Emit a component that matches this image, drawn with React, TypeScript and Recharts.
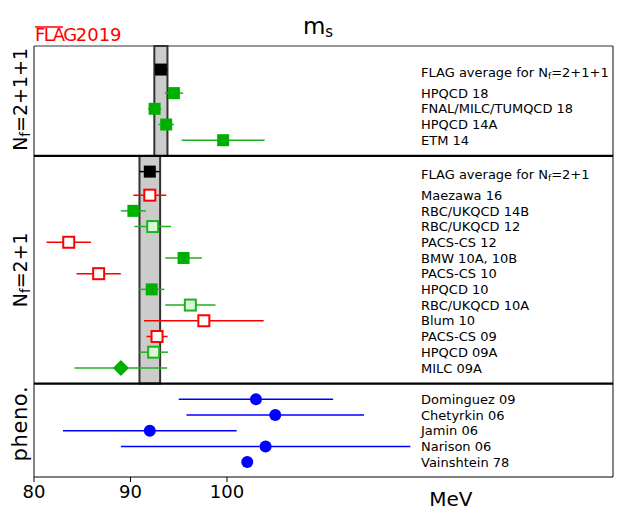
import {
  ComposedChart,
  ErrorBar,
  Label,
  ReferenceArea,
  ReferenceLine,
  Scatter,
  XAxis,
  YAxis,
} from "recharts";

// FLAG averages (top: Nf=2+1+1, middle: Nf=2+1)
const averageLabels = ["FLAG average for Nf=2+1+1", "FLAG average for Nf=2+1"];
const averageValues = [93.15, 92.0];
const averageErrors = [0.68, 1.07];

const nf4Names = ["HPQCD 18", "FNAL/MILC/TUMQCD 18", "HPQCD 14A", "ETM 14"];
const nf4Values = [94.5, 92.5, 93.7, 99.6];
const nf4Errors = [0.96, 0.69, 0.8, 4.3];
const nf4Markers = ["filled", "filled", "filled", "filled"];

const nf3Names = [
  "Maezawa 16",
  "RBC/UKQCD 14B",
  "RBC/UKQCD 12",
  "PACS-CS 12",
  "BMW 10A, 10B",
  "PACS-CS 10",
  "HPQCD 10",
  "RBC/UKQCD 10A",
  "Blum 10",
  "PACS-CS 09",
  "HPQCD 09A",
  "MILC 09A",
];
const nf3Values = [92.0, 90.3, 92.3, 83.6, 95.5, 86.7, 92.2, 96.2, 97.6, 92.75, 92.4, 89.0];
const nf3Errors = [1.7, 1.3, 1.9, 2.3, 1.9, 2.3, 1.3, 2.6, 6.2, 1.1, 1.5, 4.8];
const nf3Markers = [
  "open", "filled", "light", "open", "filled", "open",
  "filled", "light", "open", "open", "light", "diamond",
];

const phenoNames = ["Dominguez 09", "Chetyrkin 06", "Jamin 06", "Narison 06", "Vainshtein 78"];
const phenoValues = [103, 105, 92, 104, 102.1];
const phenoErrors = [8, 9.2, 9, 15, 0];

const sectionNames = ["Nf=2+1+1", "Nf=2+1", "pheno."];
const xTicks = [80, 90, 100];

// row layout (y axis runs top to bottom in row units)
const TOP_AVG = 1.5;
const TOP_FIRST = 3;
const SEP1 = 7;
const MID_AVG = 8;
const MID_FIRST = 9.5;
const SEP2 = 21.5;
const PHENO_FIRST = 22.5;
const Y_MAX = 27.45;
const SECTION_ROWS = [3.4, 14.25, 24.05];

const GREEN = "#00b000";
const GREEN_LINE = "#20b020";
const RED = "#ff0000";
const BLUE = "#0000ff";
const FONT = "DejaVu Sans, sans-serif";

type Pt = { x: number; y: number; err: number; marker: string };

const points: Pt[] = [
  ...nf4Values.map((v, i) => ({ x: v, y: TOP_FIRST + i, err: nf4Errors[i], marker: nf4Markers[i] })),
  ...nf3Values.map((v, i) => ({ x: v, y: MID_FIRST + i, err: nf3Errors[i], marker: nf3Markers[i] })),
];
const avgPoints = [
  { x: averageValues[0], y: TOP_AVG, err: averageErrors[0] },
  { x: averageValues[1], y: MID_AVG, err: averageErrors[1] },
];
const phenoPoints = phenoValues.map((v, i) => ({ x: v, y: PHENO_FIRST + i, err: phenoErrors[i] }));

const rowLabels: { y: number; text: string; avg: boolean }[] = [
  { y: TOP_AVG, text: averageLabels[0], avg: true },
  ...nf4Names.map((n, i) => ({ y: TOP_FIRST + i, text: n, avg: false })),
  { y: MID_AVG, text: averageLabels[1], avg: true },
  ...nf3Names.map((n, i) => ({ y: MID_FIRST + i, text: n, avg: false })),
  ...phenoNames.map((n, i) => ({ y: PHENO_FIRST + i, text: n, avg: false })),
];

function withSub(text: string, size: number) {
  const k = text.indexOf("Nf");
  if (k < 0) return text;
  return (
    <>
      {text.slice(0, k)}N
      <tspan fontSize={size * 0.7} dy={size * 0.15}>f</tspan>
      <tspan dy={-size * 0.15}>{text.slice(k + 2)}</tspan>
    </>
  );
}

// one tick renderer for both the study names (right) and the section names (left, rotated)
function RowTick(props: any) {
  const { y, payload } = props;
  const s = SECTION_ROWS.findIndex((r) => Math.abs(r - payload.value) < 1e-6);
  if (s >= 0) {
    const pheno = sectionNames[s].startsWith("pheno");
    return (
      <text
        transform={`translate(27, ${y}) rotate(-90)`}
        textAnchor="middle"
        fontSize={pheno ? 21 : 19}
        letterSpacing={pheno ? 0.6 : 0}
        fontFamily={FONT}
        fill="#000"
      >
        {withSub(sectionNames[s], 19)}
      </text>
    );
  }
  const row = rowLabels.find((r) => Math.abs(r.y - payload.value) < 1e-6);
  if (!row) return null;
  return (
    <text
      x={421}
      y={y + (row.avg ? 3 : 0)}
      dy="0.36em"
      fontSize={13}
      fontFamily={FONT}
      fill="#000"
      textAnchor="start"
    >
      {withSub(row.text, 13)}
    </text>
  );
}

const square = (fill: string, stroke: string, size = 12) => (p: any) => (
  <rect
    x={p.cx - size / 2}
    y={p.cy - size / 2}
    width={size}
    height={size}
    fill={fill}
    stroke={stroke}
    strokeWidth={stroke === "none" ? 0 : 2}
  />
);

const diamond = (p: any) => (
  <polygon
    points={`${p.cx},${p.cy - 8} ${p.cx + 8},${p.cy} ${p.cx},${p.cy + 8} ${p.cx - 8},${p.cy}`}
    fill={GREEN}
  />
);

const circle = (p: any) => <circle cx={p.cx} cy={p.cy} r={6} fill={BLUE} />;

function MeVLabel(props: any) {
  const { viewBox } = props;
  return (
    <text
      x={viewBox.x + viewBox.width * 0.72}
      y={506}
      textAnchor="middle"
      fontSize={20}
      fontFamily={FONT}
      fill="#000"
    >
      MeV
    </text>
  );
}

export default function App() {
  const groups = [
    { key: "filled", shape: square(GREEN, "none"), line: GREEN_LINE },
    { key: "open", shape: square("#fff", RED, 11), line: RED },
    { key: "light", shape: square("#d8f8d8", GREEN_LINE, 11), line: GREEN_LINE },
    { key: "diamond", shape: diamond, line: GREEN_LINE },
  ];
  const yTicks = [...rowLabels.map((r) => r.y), ...SECTION_ROWS].sort((a, b) => a - b);
  return (
    <div style={{ position: "absolute", left: 0, top: 0, width: 627, height: 520, background: "#fff" }}>
      <ComposedChart
        width={627}
        height={520}
        margin={{ top: 46, right: 14, bottom: 13, left: 34 }}
      >
        <XAxis
          type="number"
          dataKey="x"
          domain={[80, 140]}
          ticks={xTicks}
          height={30}
          tickSize={5}
          tickMargin={3}
          stroke="#000"
          tick={{ fontSize: 18, fontFamily: FONT, fill: "#000" }}
        >
          <Label content={<MeVLabel />} />
        </XAxis>
        <YAxis
          yAxisId="rows"
          type="number"
          dataKey="y"
          domain={[0, Y_MAX]}
          reversed
          mirror
          axisLine={false}
          tickLine={false}
          interval={0}
          ticks={yTicks}
          tick={<RowTick />}
        />
        <ReferenceArea
          yAxisId="rows"
          x1={averageValues[0] - averageErrors[0]}
          x2={averageValues[0] + averageErrors[0]}
          y1={0}
          y2={SEP1}
          fill="#cccccc"
          fillOpacity={1}
          stroke="#333"
          strokeWidth={2}
        />
        <ReferenceArea
          yAxisId="rows"
          x1={averageValues[1] - averageErrors[1]}
          x2={averageValues[1] + averageErrors[1]}
          y1={SEP1}
          y2={SEP2}
          fill="#cccccc"
          fillOpacity={1}
          stroke="#333"
          strokeWidth={2}
        />
        <ReferenceLine yAxisId="rows" x={80} stroke="#333" strokeWidth={1.2} />
        <ReferenceLine yAxisId="rows" x={140} stroke="#333" strokeWidth={1.2} />
        <ReferenceLine yAxisId="rows" y={0} stroke="#333" strokeWidth={1.2} />
        <ReferenceLine yAxisId="rows" y={SEP1} stroke="#000" strokeWidth={2.2} />
        <ReferenceLine yAxisId="rows" y={SEP2} stroke="#000" strokeWidth={2.2} />

        <Scatter yAxisId="rows" data={avgPoints} shape={square("#000", "none")} isAnimationActive={false}>
          <ErrorBar dataKey="err" direction="x" width={0} stroke="#000" strokeWidth={1.5} />
        </Scatter>
        {groups.map((g) => (
          <Scatter
            key={g.key}
            yAxisId="rows"
            data={points.filter((p) => p.marker === g.key)}
            shape={g.shape}
            isAnimationActive={false}
          >
            <ErrorBar dataKey="err" direction="x" width={0} stroke={g.line} strokeWidth={1.5} />
          </Scatter>
        ))}
        <Scatter yAxisId="rows" data={phenoPoints} shape={circle} isAnimationActive={false}>
          <ErrorBar dataKey="err" direction="x" width={0} stroke={BLUE} strokeWidth={1.5} />
        </Scatter>
      </ComposedChart>
      <svg
        width={627}
        height={46}
        style={{ position: "absolute", left: 0, top: 0, pointerEvents: "none" }}
      >
        <line x1={35} y1={27} x2={63} y2={27} stroke={RED} strokeWidth={1.5} />
        <text x={35} y={41} fontSize={18} fontFamily={FONT} fill={RED}>
          <tspan letterSpacing={-1.5}>FLAG</tspan>
          <tspan>2019</tspan>
        </text>
        <text x={318} y={34} textAnchor="middle" fontSize={23} fontFamily={FONT} fill="#000">
          m<tspan fontSize={15} dy={3}>s</tspan>
        </text>
      </svg>
    </div>
  );
}
